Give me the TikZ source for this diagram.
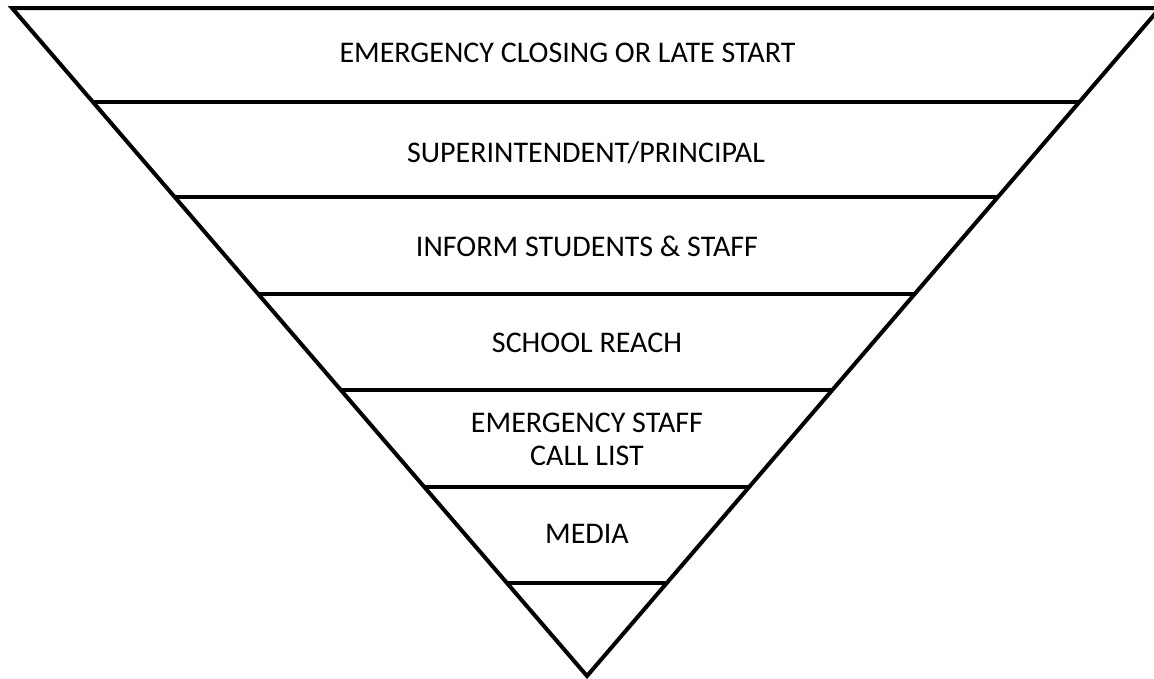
\documentclass[tikz,border=0pt]{standalone}
\usepackage{fontspec}
\setmainfont{Carlito}
\usetikzlibrary{calc}
\begin{document}
\begin{tikzpicture}[x=1pt,y=-1pt,
  edge/.style={line width=4pt,line join=miter,line cap=butt},
  label/.style={anchor=base,inner sep=0pt,font=\fontsize{30}{34}\selectfont}]
\useasboundingbox (0,0) rectangle (1154,678);
\clip (0,0) rectangle (1154,678);
\coordinate (L) at (12,8);
\coordinate (R) at (1160,8);
\coordinate (A) at (587,676);
\draw[edge] (L) -- (R) -- (A) -- cycle;
\foreach \y [count=\i] in {101.5,197,294,390,487,583}{
  \pgfmathsetmacro{\t}{(\y-8)/668}
  \coordinate (l\i) at ($(L)!\t!(A)$);
  \coordinate (r\i) at ($(R)!\t!(A)$);
  \draw[edge] (l\i) -- (r\i);
}
\node[label] (t1) at (567.5,62) {EMERGENCY CLOSING OR LATE START};
\node[label] (t2) at (586,162) {SUPERINTENDENT/PRINCIPAL};
\node[label] (t3) at (587,256) {INFORM STUDENTS \& STAFF};
\node[label] (t4) at (587,352) {SCHOOL REACH};
\node[label] (t5a) at (587,432) {EMERGENCY STAFF};
\node[label] (t5b) at (587,465) {CALL LIST};
\node[label] (t6) at (587,543) {MEDIA};
\end{tikzpicture}
\end{document}
